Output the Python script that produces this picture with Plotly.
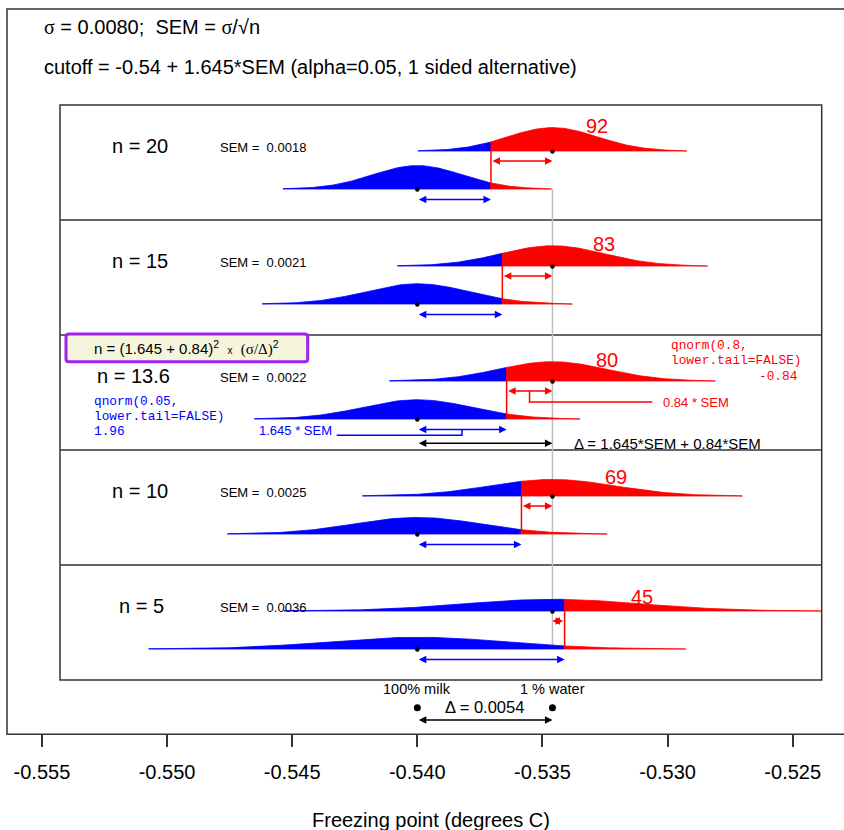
import numpy as np
import plotly.graph_objects as go

# ---------------- data ----------------
n_values = [20, 15, 13.6, 10, 5]
n_labels = ["n = 20", "n = 15", "n = 13.6", "n = 10", "n = 5"]
sem_labels = ["0.0018", "0.0021", "0.0022", "0.0025", "0.0036"]
power_labels = ["92", "83", "80", "69", "45"]
sigma = 0.0080
mean_milk = -0.5400
mean_water = -0.5346
z_alpha = 1.645
z_beta = 0.84
delta_label = "0.0054"
tick_values = [-0.555, -0.550, -0.545, -0.540, -0.535, -0.530, -0.525]
tick_labels = ["-0.555", "-0.550", "-0.545", "-0.540", "-0.535", "-0.530", "-0.525"]

# ---------------- geometry (pixels) ----------------
W, H = 844, 830
X0PX, PX_PER_UNIT = 41.9, 25027.0


def xv(px):
    return -0.555 + (px - X0PX) / PX_PER_UNIT


panel_top = [105, 220, 335, 450, 565]
n_label_left = [110, 110, 95, 110, 117]
K = 0.105  # px per density unit
BLUE, RED = "#0000FF", "#FF0000"
SANS = "Liberation Sans, Arial, sans-serif"
MONO = "Liberation Mono, Courier New, monospace"

fig = go.Figure()
shapes = []
ann = []


def dnorm(x, m, s):
    return np.exp(-0.5 * ((x - m) / s) ** 2) / (s * np.sqrt(2 * np.pi))


def poly(xa, xb, m, s, base, color):
    xs = np.linspace(xa, xb, 120)
    ys = base - K * dnorm(xs, m, s)
    px = np.concatenate([xs, [xb, xa, xa]])
    py = np.concatenate([ys, [base, base, ys[0]]])
    fig.add_trace(go.Scatter(x=px, y=py, mode="lines", fill="toself",
                             fillcolor=color, line=dict(color=color, width=0.8),
                             hoverinfo="skip", showlegend=False))


def arrow(x0, x1, y, color, width=1.5):
    ann.append(dict(x=x1, y=y, ax=x0, ay=y, xref="x", yref="y", axref="x", ayref="y",
                    showarrow=True, arrowhead=2, startarrowhead=2, arrowside="end+start",
                    arrowsize=1.0, startarrowsize=1.0, arrowwidth=width,
                    arrowcolor=color, text=""))


def text(x, y, s, size, color="black", anchor="left", family=SANS, xref="x"):
    ann.append(dict(x=x, y=y, xref=xref, yref="y", text=s, showarrow=False,
                    xanchor=anchor, yanchor="middle",
                    font=dict(size=size, color=color, family=family)))


def line(pts, color, width=1.5, layer="above"):
    path = "M " + " L ".join(f"{a},{b}" for a, b in pts)
    shapes.append(dict(type="path", path=path, xref="x", yref="y",
                       line=dict(color=color, width=width), layer=layer))


# outer box & inner box
shapes.append(dict(type="rect", xref="x", yref="y", x0=xv(7), x1=xv(846), y0=9, y1=734.3,
                   line=dict(color="#333333", width=1.5), layer="below"))
shapes.append(dict(type="rect", xref="x", yref="y", x0=xv(60), x1=xv(821.7), y0=105, y1=680,
                   line=dict(color="#333333", width=1.5), layer="below"))
for t in panel_top[1:]:
    line([(xv(60), t), (xv(821.7), t)], "#333333", 1.5, "below")

# grey reference line at water mean
line([(mean_water, panel_top[0] + 84), (mean_water, panel_top[4] + 84)], "#BEBEBE", 1.5, "below")

for i, n in enumerate(n_values):
    top = panel_top[i]
    rb, bb = top + 46, top + 84
    sem = sigma / np.sqrt(n)
    cut = mean_milk + z_alpha * sem
    # milk (null) curve
    poly(mean_milk - 3 * sem, cut, mean_milk, sem, bb, BLUE)
    poly(cut, mean_milk + 3 * sem, mean_milk, sem, bb, RED)
    # water (alternative) curve
    poly(mean_water - 3 * sem, cut, mean_water, sem, rb, BLUE)
    poly(cut, mean_water + 3 * sem, mean_water, sem, rb, RED)
    # cutoff line
    line([(cut, rb), (cut, bb)], RED, 1.5)
    # dots
    fig.add_trace(go.Scatter(x=[mean_water, mean_milk], y=[rb + 0.5, bb + 0.5], mode="markers",
                             marker=dict(color="black", size=4.5), hoverinfo="skip",
                             showlegend=False))
    # arrows
    arrow(cut, mean_water, rb + 10, RED)
    arrow(mean_milk, cut, bb + 10.5, BLUE)
    # labels
    text(xv(n_label_left[i]), top + 40.5, n_labels[i], 20)
    text(xv(218), top + 42.5, "SEM =  " + sem_labels[i], 13)
    peak = K * dnorm(mean_water, mean_water, sem)
    text(mean_water + sem, rb - peak - 2, power_labels[i], 20, RED, "center")

# ---- extra annotations in the n = 13.6 panel ----
i3 = 2
top = panel_top[i3]
rb, bb = top + 46, top + 84
sem3 = sigma / np.sqrt(n_values[i3])
cut3 = mean_milk + z_alpha * sem3
# purple formula box with rounded corners
bx0, bx1, by0, by1, r = 66, 307.7, 334, 361.7, 3
px0, px1 = xv(bx0), xv(bx1)
rx = r / PX_PER_UNIT
path = (f"M {px0 + rx},{by0} L {px1 - rx},{by0} Q {px1},{by0} {px1},{by0 + r} "
        f"L {px1},{by1 - r} Q {px1},{by1} {px1 - rx},{by1} L {px0 + rx},{by1} "
        f"Q {px0},{by1} {px0},{by1 - r} L {px0},{by0 + r} Q {px0},{by0} {px0 + rx},{by0} Z")
shapes.append(dict(type="path", path=path, xref="x", yref="y", fillcolor="#F5F5DC",
                   line=dict(color="#A020F0", width=3), layer="above"))
text(xv((bx0 + bx1) / 2), 348,
     "n = (1.645 + 0.84)<sup>2</sup>  <span style='font-size:10px'>x</span>  "
     "<span style='font-family:Liberation Serif, serif'>(σ/Δ)</span><sup>2</sup>",
     15, "black", "center")

text(xv(92), 401, "qnorm(0.05,", 12.8, BLUE, "left", MONO)
text(xv(92), 416, "lower.tail=FALSE)", 12.8, BLUE, "left", MONO)
text(xv(92), 431, "1.96", 12.8, BLUE, "left", MONO)

text(xv(669), 345, "qnorm(0.8,", 12.8, RED, "left", MONO)
text(xv(669), 360.5, "lower.tail=FALSE)", 12.8, RED, "left", MONO)
text(xv(800), 376, "-0.84", 12.8, RED, "right", MONO)

text(xv(257), 430.5, "1.645 * SEM", 13, BLUE)
mid_b = (mean_milk + cut3) / 2
line([(xv(336.7), 435.3), (mid_b, 435.3), (mid_b, bb + 10.5)], BLUE, 1.5)

mid_r = (cut3 + mean_water) / 2
line([(mid_r, rb + 10), (mid_r, 402), (xv(652.3), 402)], RED, 1.5)
text(xv(661), 402, "0.84 * SEM", 13, RED)

arrow(mean_milk, mean_water, 443.3, "black")
text(xv(571.7), 443, "Δ = 1.645*SEM + 0.84*SEM", 15)

# ---- bottom legend ----
text(mean_milk, 689, "100% milk", 14.5, "black", "center")
text(mean_water, 689, "1 % water", 14.5, "black", "center")
fig.add_trace(go.Scatter(x=[mean_milk, mean_water], y=[707.7, 707.7], mode="markers",
                         marker=dict(color="black", size=7), hoverinfo="skip", showlegend=False))
text((mean_milk + mean_water) / 2, 707, "Δ = " + delta_label, 16.5, "black", "center")
arrow(mean_milk, mean_water, 720, "black")

# ---- header ----
text(xv(42), 27, "<span style='font-family:Liberation Serif, serif'>σ</span> = 0.0080;  SEM = "
     "<span style='font-family:Liberation Serif, serif'>σ</span>/√n", 20)
text(xv(42), 67, "cutoff = -0.54 + 1.645*SEM (alpha=0.05, 1 sided alternative)", 20)

# ---- axis title ----
text(430.5 / W, 820, "Freezing point (degrees C)", 20, "black", "center", SANS, "paper")

fig.update_layout(
    width=W, height=H, margin=dict(l=0, r=0, t=0, b=0),
    paper_bgcolor="white", plot_bgcolor="white",
    shapes=shapes, annotations=ann, showlegend=False,
    xaxis=dict(range=[xv(0), xv(W)], anchor="free", position=(H - 734.3) / H,
               tickmode="array", tickvals=tick_values, ticktext=tick_labels,
               ticks="outside", ticklen=12, tickwidth=1.5, tickcolor="#333333",
               showgrid=False, zeroline=False, showline=False,
               tickfont=dict(size=20, family=SANS, color="black"),
               ticklabelstandoff=8),
    yaxis=dict(range=[H, 0], visible=False, showgrid=False, zeroline=False),
    font=dict(family=SANS),
)

fig.write_html(
    "out.html",
    config={"displayModeBar": False},
    post_script="document.body.style.margin='0px';document.body.style.padding='0px';"
                "document.documentElement.style.overflow='hidden';",
)
